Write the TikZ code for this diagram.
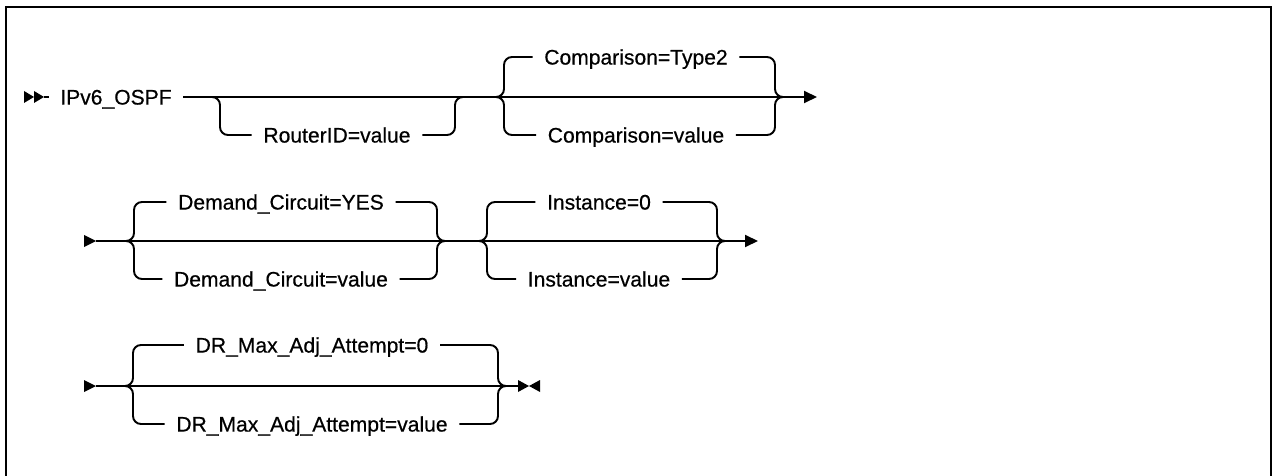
\documentclass[tikz,border=0pt]{standalone}
\usepackage{fontspec}
\setmainfont{Liberation Sans}
\newfontfamily\railfont[FakeBold=0.5]{Liberation Sans}
\usetikzlibrary{arrows.meta}

\begin{document}
\begin{tikzpicture}[x=0.02cm, y=-0.02cm,
    every node/.style={font=\railfont\fontsize{12}{14}\selectfont},
    opt/.style={inner xsep=6.5pt, inner ysep=0pt, text height=8.6pt, text depth=0pt},
    rail/.style={line width=1.1pt, rounded corners=0.16cm},
    railend/.style={rail, -{Triangle[length=0.26cm, width=0.24cm]}}]
  \useasboundingbox (0,0) rectangle (1274,476);
  \draw[line width=1.4pt] (6,476) -- (6,7) -- (1271,7) -- (1271,476);

  % row 1
  \fill (24,91) -- (34,97) -- (24,103) -- cycle;
  \fill (34,91) -- (44,97) -- (34,103) -- cycle;
  \coordinate (s1) at (44,97);
  \node[opt] (ipv) at (116,97) {IPv6\_OSPF};
  \coordinate (e1) at (817,97);
  \draw[rail] (s1) -- (ipv.west);
  \draw[railend] (ipv.east) -- (e1);
  % optional router id
  \coordinate (ra) at (212,97);
  \coordinate (rb) at (463,97);
  \node[opt] (rid) at (337,135) {RouterID=value};
  \draw[rail] (ra) -- ([xshift=0.16cm]ra) |- (rid.west);
  \draw[rail] (rid.east) -| ([xshift=-0.16cm]rb) -- (rb);
  % comparison
  \coordinate (cl) at (504,97);
  \coordinate (cr) at (775,97);
  \node[opt] (cdef) at (636,57) {Comparison=Type2};
  \node[opt] (cval) at (636,135) {Comparison=value};
  \draw[rail] ([xshift=-0.16cm]cl) -- (cl) |- (cdef.west);
  \draw[rail] ([xshift=-0.16cm]cl) -- (cl) |- (cval.west);
  \draw[rail] (cdef.east) -| (cr) -- ([xshift=0.16cm]cr);
  \draw[rail] (cval.east) -| (cr) -- ([xshift=0.16cm]cr);

  % row 2
  \fill (84,235) -- (96,241) -- (84,247) -- cycle;
  \coordinate (s2) at (96,241);
  \coordinate (e2) at (758,241);
  \draw[railend] (s2) -- (e2);
  % demand circuit
  \coordinate (dl) at (134,241);
  \coordinate (dr) at (437,241);
  \node[opt] (ddef) at (281,202) {Demand\_Circuit=YES};
  \node[opt] (dval) at (281,279) {Demand\_Circuit=value};
  \draw[rail] ([xshift=-0.16cm]dl) -- (dl) |- (ddef.west);
  \draw[rail] ([xshift=-0.16cm]dl) -- (dl) |- (dval.west);
  \draw[rail] (ddef.east) -| (dr) -- ([xshift=0.16cm]dr);
  \draw[rail] (dval.east) -| (dr) -- ([xshift=0.16cm]dr);
  % instance
  \coordinate (il) at (487,241);
  \coordinate (ir) at (717,241);
  \node[opt] (idef) at (599,202) {Instance=0};
  \node[opt] (ival) at (599,279) {Instance=value};
  \draw[rail] ([xshift=-0.16cm]il) -- (il) |- (idef.west);
  \draw[rail] ([xshift=-0.16cm]il) -- (il) |- (ival.west);
  \draw[rail] (idef.east) -| (ir) -- ([xshift=0.16cm]ir);
  \draw[rail] (ival.east) -| (ir) -- ([xshift=0.16cm]ir);

  % row 3
  \fill (84,380) -- (96,386) -- (84,392) -- cycle;
  \coordinate (s3) at (96,386);
  \coordinate (e3) at (518,386);
  \draw[rail] (s3) -- (e3);
  % dr attempts
  \coordinate (al) at (133,386);
  \coordinate (ar) at (498,386);
  \node[opt] (adef) at (312,345) {DR\_Max\_Adj\_Attempt=0};
  \node[opt] (aval) at (312,424) {DR\_Max\_Adj\_Attempt=value};
  \draw[rail] ([xshift=-0.16cm]al) -- (al) |- (adef.west);
  \draw[rail] ([xshift=-0.16cm]al) -- (al) |- (aval.west);
  \draw[rail] (adef.east) -| (ar) -- ([xshift=0.16cm]ar);
  \draw[rail] (aval.east) -| (ar) -- ([xshift=0.16cm]ar);
  % end mark
  \fill (518,380) -- (529,386) -- (518,392) -- cycle;
  \fill (540,380) -- (529,386) -- (540,392) -- cycle;
\end{tikzpicture}
\end{document}
